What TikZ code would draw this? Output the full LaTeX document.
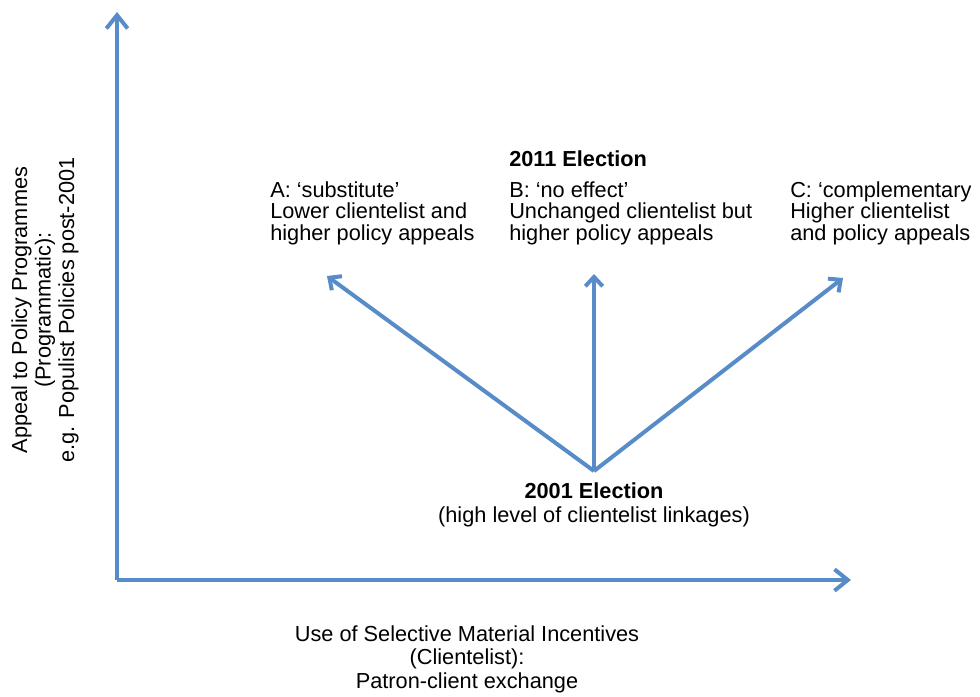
\documentclass[tikz,border=0pt]{standalone}
\usepackage{fontspec}
\setmainfont{Liberation Sans}
\usetikzlibrary{arrows.meta}
\definecolor{axisblue}{RGB}{88,140,201}
\tikzset{
  ax/.style={draw=axisblue,line width=3pt,-{Straight Barb[length=10pt,width=16pt]}},
  br/.style={draw=axisblue,line width=3pt,-{Straight Barb[length=7pt,width=13pt]}},
  txt/.style={font=\fontsize{16.3}{16.2}\selectfont,inner sep=0pt},
  blk/.style={txt,align=left,anchor=west},
}
\begin{document}
\begin{tikzpicture}[x=0.75pt,y=-0.75pt]
\useasboundingbox (0,0) rectangle (980,696);
\coordinate (orig) at (117,580);
\coordinate (ytip) at (117,12);
\coordinate (xtip) at (851,580);
\coordinate (src) at (594,471);
\coordinate (atip) at (327,276);
\coordinate (btip) at (594,274);
\coordinate (ctip) at (843,278);
\draw[ax] (orig) -- (ytip);
\draw[ax] (orig) -- (xtip);
\draw[br] (src) -- (atip);
\draw[br] (src) -- (btip);
\draw[br] (src) -- (ctip);
\node[txt,font=\fontsize{16.3}{16.2}\selectfont\bfseries,anchor=west] (e2011) at (509,159) {2011 Election};
\node[blk] (a) at (270,213) {A: ‘substitute’\\Lower clientelist and\\higher policy appeals};
\node[blk] (b) at (509,213) {B: ‘no effect’\\Unchanged clientelist but\\higher policy appeals};
\node[blk] (c) at (790,213) {C: ‘complementary\\Higher clientelist\\and policy appeals};
\node[txt,align=center,font=\fontsize{16.3}{18}\selectfont] (e2001) at (594,505) {\textbf{2001 Election}\\(high level of clientelist linkages)};
\node[txt,align=center,font=\fontsize{16.3}{17.6}\selectfont] (xl) at (467,659) {Use of Selective Material Incentives\\(Clientelist):\\Patron-client exchange};
\node[txt,align=center,rotate=90,font=\fontsize{16.3}{17.6}\selectfont] (yl) at (45,310) {Appeal to Policy Programmes\\(Programmatic):\\e.g. Populist Policies post-2001};
\end{tikzpicture}
\end{document}
